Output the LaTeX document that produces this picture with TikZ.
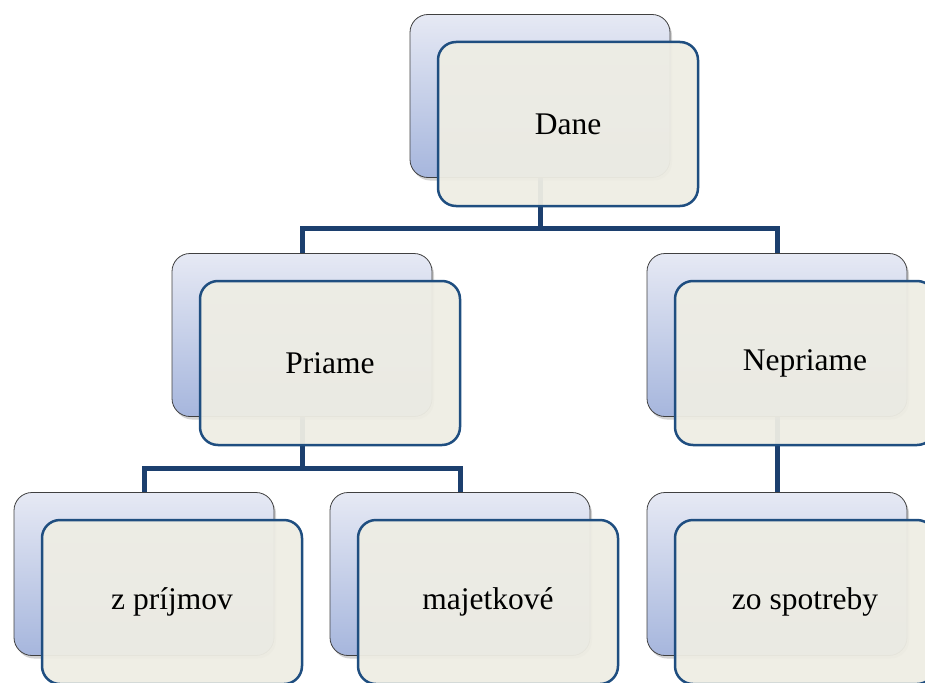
\documentclass[tikz,border=0pt]{standalone}
\usepackage{fontspec}
\setmainfont{Liberation Serif}
\usetikzlibrary{shadows,backgrounds}
\definecolor{backtop}{HTML}{E6E9F4}
\definecolor{backbot}{HTML}{A6B6DD}
\definecolor{frontfill}{HTML}{EEEDE4}
\definecolor{frontline}{HTML}{1F4E80}
\definecolor{connline}{HTML}{1C3F6E}
\newcommand{\boxtext}[1]{\raisebox{-2pt}{#1}}
\tikzset{
  x=1pt, y=-1pt,
  backbox/.style={draw=black!75, line width=0.8pt, rounded corners=18pt,
    minimum width=260pt, minimum height=163pt, inner sep=0pt,
    top color=backtop, bottom color=backbot,
    drop shadow={shadow xshift=2pt, shadow yshift=-3pt, opacity=0.35}},
  frontbox/.style={draw=frontline, line width=2.5pt, rounded corners=18pt,
    fill=frontfill, fill opacity=0.95, text opacity=1,
    minimum width=260pt, minimum height=164pt, inner sep=0pt,
    font=\fontsize{31.5}{36}\selectfont},
  conn/.style={draw=connline, line width=5pt}
}
\begin{document}
\begin{tikzpicture}
\useasboundingbox (0,0) rectangle (925,682);
\clip (0,0) rectangle (925,682);
% back boxes
\node[backbox] (b0) at (540,96) {};
\node[backbox] (b1) at (302,335) {};
\node[backbox] (b2) at (777,335) {};
\node[backbox] (b3) at (144,574) {};
\node[backbox] (b4) at (460,574) {};
\node[backbox] (b5) at (777,574) {};
% front boxes
\node[frontbox] (f0) at (568,124) {\boxtext{Dane}};
\node[frontbox] (f1) at (330,363) {\boxtext{Priame}};
\node[frontbox] (f2) at (805,363) {\boxtext{Nepriame}};
\node[frontbox] (f3) at (172,602) {\boxtext{z príjmov}};
\node[frontbox] (f4) at (488,602) {\boxtext{majetkové}};
\node[frontbox] (f5) at (805,602) {\boxtext{zo spotreby}};
% connectors
\coordinate (h0) at (540,228);
\coordinate (h1) at (302,468);
\begin{pgfonlayer}{background}
\draw[conn] (b0.south) -- (h0) -| (b1.north);
\draw[conn] (h0) -| (b2.north);
\draw[conn] (b1.south) -- (h1) -| (b3.north);
\draw[conn] (h1) -| (b4.north);
\draw[conn] (b2.south) -- (b5.north);
\end{pgfonlayer}
\end{tikzpicture}
\end{document}
